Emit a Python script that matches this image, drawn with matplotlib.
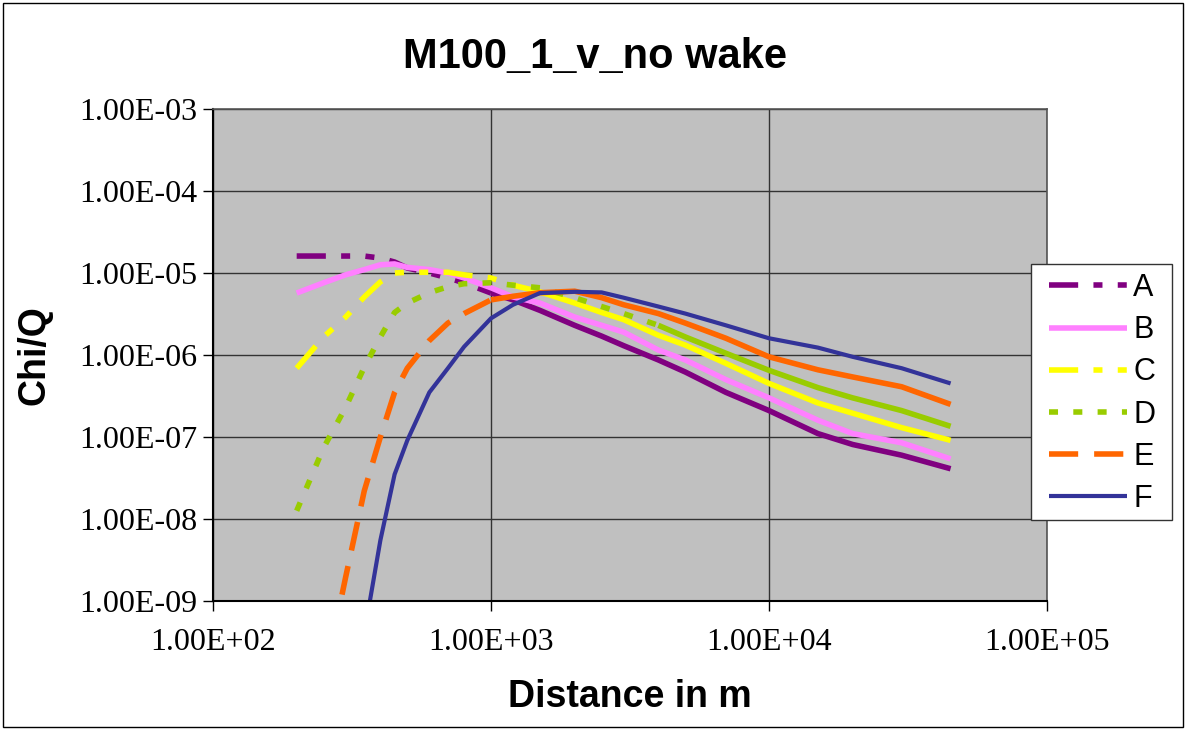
import numpy as np
import matplotlib
matplotlib.use("Agg")
import matplotlib.pyplot as plt
from matplotlib.patches import Rectangle

plt.rcParams['lines.scale_dashes'] = False

# ---- data ----
distance = [200, 250, 300, 350, 400, 450, 500, 600, 700, 800, 1000, 1200, 1500,
            2000, 2500, 3000, 4000, 5000, 7000, 10000, 15000, 20000, 30000, 45000]

series_names = ["A", "B", "C", "D", "E", "F"]

A = [1.61e-5, 1.61e-5, 1.61e-5, 1.61e-5, 1.52e-5, 1.36e-5, 1.15e-5, 1.0e-5, 8.7e-6, 7.6e-6,
     5.7e-6, 4.7e-6, 3.5e-6, 2.3e-6, 1.7e-6, 1.3e-6, 8.7e-7, 6.2e-7, 3.5e-7, 2.1e-7,
     1.1e-7, 8.1e-8, 6.0e-8, 4.1e-8]
B = [5.7e-6, 7.6e-6, 9.5e-6, 1.10e-5, 1.26e-5, 1.29e-5, 1.17e-5, 1.10e-5, 1.0e-5, 8.7e-6,
     6.6e-6, 5.1e-6, 4.3e-6, 2.9e-6, 2.3e-6, 1.9e-6, 1.15e-6, 8.7e-7, 5.0e-7, 3.0e-7,
     1.6e-7, 1.1e-7, 8.5e-8, 5.4e-8]
C = [6.9e-7, 1.66e-6, 2.9e-6, 5.1e-6, 7.8e-6, 1.0e-5, 1.02e-5, 1.02e-5, 1.02e-5, 9.5e-6,
     8.7e-6, 7.1e-6, 5.9e-6, 4.3e-6, 3.3e-6, 2.7e-6, 1.74e-6, 1.32e-6, 7.9e-7, 4.5e-7,
     2.6e-7, 1.95e-7, 1.3e-7, 9.1e-8]
D = [1.26e-8, 7.4e-8, 2.3e-7, 7.1e-7, 1.66e-6, 3.3e-6, 4.3e-6, 5.75e-6, 6.8e-6, 7.4e-6,
     7.6e-6, 7.1e-6, 6.6e-6, 5.0e-6, 3.9e-6, 3.2e-6, 2.3e-6, 1.66e-6, 1.05e-6, 6.5e-7,
     4.0e-7, 3.0e-7, 2.1e-7, 1.35e-7]
E = [np.nan, 1.0e-10, 1.95e-9, 2.2e-8, 1.0e-7, 3.5e-7, 6.9e-7, 1.5e-6, 2.45e-6, 3.2e-6,
     4.7e-6, 5.2e-6, 5.75e-6, 6.0e-6, 5.0e-6, 4.1e-6, 3.2e-6, 2.45e-6, 1.6e-6, 9.5e-7,
     6.6e-7, 5.4e-7, 4.1e-7, 2.5e-7]
F = [np.nan, np.nan, np.nan, 4.0e-10, 5.5e-9, 3.5e-8, 9.1e-8, 3.5e-7, 6.9e-7, 1.26e-6,
     2.8e-6, 4.1e-6, 5.7e-6, 5.9e-6, 5.8e-6, 5.0e-6, 3.9e-6, 3.2e-6, 2.3e-6, 1.6e-6,
     1.23e-6, 9.5e-7, 6.9e-7, 4.5e-7]

x_ticks = [1e2, 1e3, 1e4, 1e5]
x_ticklabels = ["1.00E+02", "1.00E+03", "1.00E+04", "1.00E+05"]
y_ticks = [1e-9, 1e-8, 1e-7, 1e-6, 1e-5, 1e-4, 1e-3]
y_ticklabels = ["1.00E-09", "1.00E-08", "1.00E-07", "1.00E-06", "1.00E-05", "1.00E-04", "1.00E-03"]

title = "M100_1_v_no wake"
xlabel = "Distance in m"
ylabel = "Chi/Q"

# ---- styles ----
colors = ["#800080", "#FF80FF", "#FFFF00", "#99CC00", "#FF6600", "#333399"]
dash_dd = (0, (21, 11, 6.5, 11, 6.5, 11))
styles = [dash_dd, "-", dash_dd, (0, (6.5, 11)), (0, (21, 11.5)), "-"]
widths = [4.0, 4.0, 4.0, 4.0, 4.0, 3.0]
# beyond this distance the densely sampled original looks solid
solid_from = [1000, None, 1200, 4000, 1000, None]

W, H = 1185, 729
fig = plt.figure(figsize=(W / 100, H / 100), dpi=100)
fig.patch.set_facecolor("white")
fig.patches.append(Rectangle((2.5 / W, 2.5 / H), 1 - 5 / W, 1 - 5 / H,
                             transform=fig.transFigure, fill=False,
                             edgecolor="black", linewidth=1.0))

ax = fig.add_axes([213 / W, 1 - 601 / H, (1047 - 213) / W, (601 - 109) / H])
ax.set_facecolor("#C0C0C0")
ax.set_xscale("log")
ax.set_yscale("log")
ax.set_xlim(1e2, 1e5)
ax.set_ylim(1e-9, 1e-3)

data = [A, B, C, D, E, F]
handles = []
dist = np.array(distance, dtype=float)
for name, vals, c, ls, lw, sf in zip(series_names, data, colors, styles, widths, solid_from):
    v = np.array(vals, dtype=float)
    if sf is None:
        h, = ax.plot(dist, v, color=c, linestyle=ls, linewidth=lw,
                     solid_capstyle="butt", label=name)
    else:
        k = int(np.searchsorted(dist, sf))
        h, = ax.plot(dist[:k + 1], v[:k + 1], color=c, linestyle=ls, linewidth=lw,
                     dash_capstyle="butt", label=name)
        ax.plot(dist[k:], v[k:], color=c, linestyle="-", linewidth=lw,
                solid_capstyle="butt")
    handles.append(h)

ax.set_xticks(x_ticks)
ax.set_xticklabels(x_ticklabels)
ax.set_yticks(y_ticks)
ax.set_yticklabels(y_ticklabels)
ax.minorticks_off()
ax.tick_params(axis="both", which="major", direction="out", length=7.5,
               width=1.0, color="black")
ax.tick_params(axis="y", pad=4)
ax.tick_params(axis="x", pad=12)
for lab in ax.get_xticklabels() + ax.get_yticklabels():
    lab.set_fontfamily("Liberation Serif")
    lab.set_fontsize(23)

ax.grid(True, which="major", color="#333333", linewidth=1.0)
ax.set_axisbelow(True)
for s in ["left", "bottom"]:
    ax.spines[s].set_color("black")
    ax.spines[s].set_linewidth(1.5)
for s in ["top", "right"]:
    ax.spines[s].set_color("#555555")
    ax.spines[s].set_linewidth(1.2)

fig.text(595 / W, 1 - 57 / H, title, ha="center", va="center",
         fontfamily="Liberation Sans", fontweight="bold", fontsize=30)
fig.text(630 / W, 1 - 697 / H, xlabel, ha="center", va="center",
         fontfamily="Liberation Sans", fontweight="bold", fontsize=27)
fig.text(35 / W, 1 - 355 / H, ylabel, ha="center", va="center", rotation=90,
         fontfamily="Liberation Sans", fontweight="bold", fontsize=27)

# legend box drawn separately, entries placed inside without their own frame
fig.patches.append(Rectangle((1031 / W, 1 - 520 / H), (1172 - 1031) / W, (520 - 264) / H,
                             transform=fig.transFigure, facecolor="white",
                             edgecolor="#333333", linewidth=1.0, zorder=5))
leg = fig.legend(handles=handles, labels=series_names,
                 loc="upper left", bbox_to_anchor=(1049 / W, 1 - 273 / H),
                 bbox_transform=fig.transFigure, borderaxespad=0,
                 prop={"family": "Liberation Sans", "size": 22},
                 frameon=False, handlelength=2.55, handletextpad=0.2,
                 labelspacing=0.4, borderpad=0)
leg.set_zorder(6)

fig.savefig("out.png", dpi=100, facecolor="white")
